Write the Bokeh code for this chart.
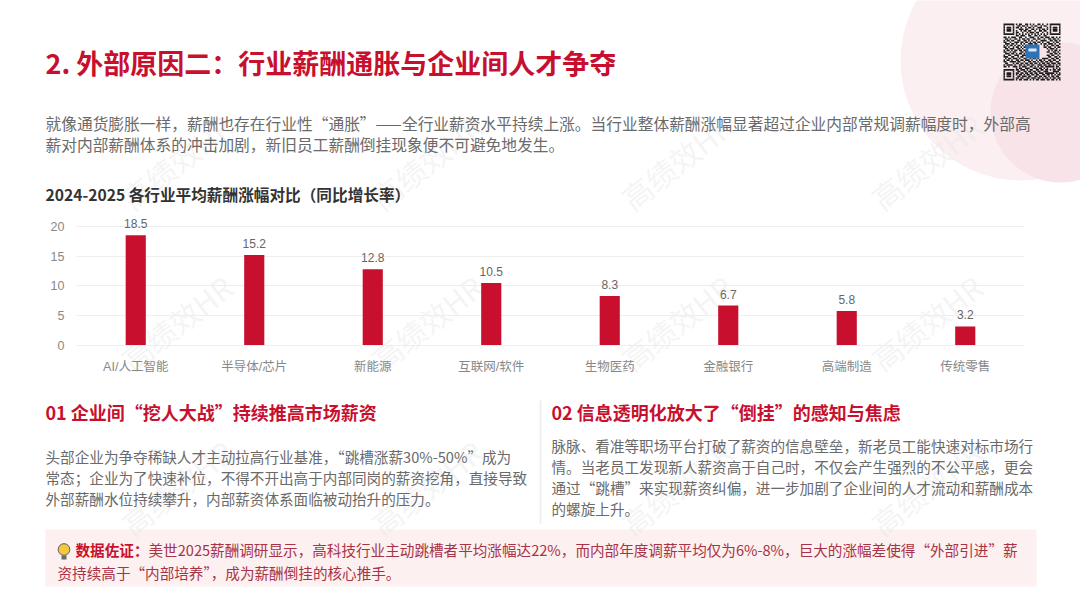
import math
from bokeh.core.properties import value
from bokeh.embed import file_html
from bokeh.layouts import column
from bokeh.resources import INLINE
from bokeh.plotting import figure
from bokeh.models import ColumnDataSource, Label, LabelSet, FixedTicker

categories = ["AI/人工智能", "半导体/芯片", "新能源", "互联网/软件", "生物医药", "金融银行", "高端制造", "传统零售"]
growth = [18.5, 15.2, 12.8, 10.5, 8.3, 6.7, 5.8, 3.2]
y_ticks = [0, 5, 10, 15, 20]

page_title = "2. 外部原因二：行业薪酬通胀与企业间人才争夺"
intro_lines = ["就像通货膨胀一样，薪酬也存在行业性“通胀”——全行业薪资水平持续上涨。当行业整体薪酬涨幅显著超过企业内部常规调薪幅度时，外部高",
               "薪对内部薪酬体系的冲击加剧，新旧员工薪酬倒挂现象便不可避免地发生。"]
chart_title = "2024-2025 各行业平均薪酬涨幅对比（同比增长率）"
left_head = "01 企业间“挖人大战”持续推高市场薪资"
left_body = ["头部企业为争夺稀缺人才主动拉高行业基准，“跳槽涨薪30%-50%”成为",
             "常态；企业为了快速补位，不得不开出高于内部同岗的薪资挖角，直接导致",
             "外部薪酬水位持续攀升，内部薪资体系面临被动抬升的压力。"]
right_head = "02 信息透明化放大了“倒挂”的感知与焦虑"
right_body = ["脉脉、看准等职场平台打破了薪资的信息壁垒，新老员工能快速对标市场行",
              "情。当老员工发现新人薪资高于自己时，不仅会产生强烈的不公平感，更会",
              "通过“跳槽”来实现薪资纠偏，进一步加剧了企业间的人才流动和薪酬成本",
              "的螺旋上升。"]
note_head = "数据佐证："
note_lines = ["美世2025薪酬调研显示，高科技行业主动跳槽者平均涨幅达22%，而内部年度调薪平均仅为6%-8%，巨大的涨幅差使得“外部引进”薪",
              "资持续高于“内部培养”，成为薪酬倒挂的核心推手。"]
watermark = "高绩效HR"

qr_rows = [
"1111111010110011010100110100101111111",
"1000001001101101001011001011001000001",
"1011101011010010110100111000101011101",
"1011101000111011001101010110101011101",
"1011101010010110110010011011001011101",
"1000001011001001011101100100101000001",
"1111111010101010101010101010101111111",
"0000000011011100110011010011000000000",
"1101011100110010011100101101110110101",
"0110100110101101100110110010011011010",
"1011011001100110101001001111001101101",
"1100100111011011010110110100110010110",
"0111011010010100111011001011011101001",
"1010110101101011001010000010100110110",
"1101001011010110100100000011011001011",
"0110111001101001000000000000101110100",
"1011010110110110100000000000010101101",
"1100101100011011000000000000110011010",
"0111011010110101100000000000001101101",
"1001100111001110000000000000110110010",
"1110011001011001100000000000011001101",
"0101101110100110010110100111100110110",
"1011010011011011101001011010011011001",
"1100111101100100110110101101101100110",
"0110001011011011011011010110110111011",
"1011110100110101101100111011011010101",
"1101001110101110011010101101111110110",
"0000000010110011100111011010100010101",
"1111111011011101011001101101101011011",
"1000001001100110110110110011100011110",
"1011101011011011011011011101111110101",
"1011101010110101101101100110110101011",
"1011101001101110110011011011010110110",
"1000001011011001101110110101101011011",
"1111111010110111010101101110110110101",
]

BAR = "#c8102e"
FONT = "Noto Sans CJK SC"
SANS = "Liberation Sans, Noto Sans CJK SC"
W, H = 1080, 608

# full-page background figure: its axes are simply page pixels
bg = figure(x_range=(0, W), y_range=(H, 0), width=W, height=H, output_backend="svg",
            toolbar_location=None, x_axis_location=None, y_axis_location=None,
            min_border=0, frame_align=False)
bg.grid.visible = False
bg.outline_line_color = None
bg.background_fill_color = "#ffffff"
bg.border_fill_color = "#ffffff"


def box(x0, x1, y0, y1, color):
    bg.quad(left=x0, right=x1, top=y0, bottom=y1, fill_color=color, line_color=None)


def text(t, x, y, size, color, bold=False, align="left", angle=0, alpha=1.0, level="annotation"):
    bg.add_layout(Label(x=x, y=y, text=t, text_font=FONT, text_font_size=f"{size}px", text_color=color,
                        text_font_style="bold" if bold else "normal", text_align=align,
                        text_baseline="middle", angle=angle, angle_units="deg",
                        text_alpha=alpha, level=level))


bg.circle(x=[1020], y=[60], radius=120, fill_color="#fbeff1", line_color=None)
bg.circle(x=[1060], y=[112], radius=70, fill_color="#f8e4e8", line_color=None)
box(45, 1036, 529, 586, "#fdf0f0")
box(539, 541, 400, 523, "#eeeeee")

for wy in (161, 322, 487):
    for wx in (176, 426, 676, 926):
        text(watermark, wx, wy, 30, "#e8e8e8", align="center", angle=38, alpha=0.45, level="glyph")

# QR code
QX, QY, QS = 1003, 23, 57 / 37
RS = 57 / len(qr_rows)
ql, qr, qt, qb = [], [], [], []
for r, row in enumerate(qr_rows):
    c = 0
    while c < len(row):
        if row[c] == "1":
            e = c
            while e < len(row) and row[e] == "1":
                e += 1
            ql.append(QX + c * QS); qr.append(QX + e * QS)
            qt.append(QY + r * RS); qb.append(QY + (r + 1) * RS)
            c = e
        else:
            c += 1
bg.quad(left=ql, right=qr, top=qt, bottom=qb, fill_color="#1c1c1c", line_color=None)
box(1025, 1039, 44, 58, "#2f72b8")
box(1028, 1036, 48, 51, "#dbe8f5")

# bulb
bg.circle(x=[63.5], y=[549], radius=5.8, fill_color="#f7c83c", line_color="#5a5a5a", line_width=1)
box(61, 66, 555, 559, "#6a6a6a")

# texts (y is the visual centre of the line; the CJK font sits 2px low on "middle")
D = 2
text(page_title, 45, 64 - D, 27, BAR, bold=True)
for i, t in enumerate(intro_lines):
    text(t, 45, 125 - D + 20.5 * i, 15.72, "#6a6a6a")
text(chart_title, 45, 196 - D, 15.65, "#333333", bold=True)
text(left_head, 45, 413 - D, 18, BAR, bold=True)
for i, t in enumerate(left_body):
    text(t, 45, 458 - D + 21 * i, 14.6, "#6a6a6a")
text(right_head, 551, 413 - D, 18, BAR, bold=True)
for i, t in enumerate(right_body):
    text(t, 551, 447 - D + 21 * i, 14.6, "#6a6a6a")
text(note_head, 75, 551 - D, 14.6, BAR, bold=True)
text(note_lines[0], 148, 551 - D, 14.6, "#a83246")
text(note_lines[1], 57, 574 - D, 14.6, "#a83246")

# chart, laid transparently over the background
CH_TOP = 205
p = figure(x_range=categories, y_range=(0, 22), width=W, height=180,
           output_backend="svg", toolbar_location=None, frame_align=False,
           min_border_left=76, min_border_right=56, min_border_top=9, min_border_bottom=40,
           margin=(CH_TOP - H, 0, 0, 0))
p.x_range.range_padding = 0
p.x_range.factor_padding = 0
p.outline_line_color = None
p.background_fill_color = None
p.border_fill_color = None
p.xgrid.grid_line_color = None
p.ygrid.grid_line_color = "#eeeeee"
p.ygrid.ticker = FixedTicker(ticks=y_ticks)
p.yaxis.ticker = FixedTicker(ticks=y_ticks)
for ax in (p.xaxis[0], p.yaxis[0]):
    ax.major_tick_line_color = None
    ax.minor_tick_line_color = None
    ax.major_label_text_color = "#888888"
    ax.major_label_text_font = SANS
    ax.major_label_text_font_size = "12.5px"
p.yaxis.axis_line_color = None
p.yaxis.major_label_standoff = 6
p.xaxis.axis_line_color = "#eeeeee"
p.xaxis.major_label_standoff = 8

src = ColumnDataSource(dict(cat=categories, val=growth, lab=[f"{v:.1f}" for v in growth]))
p.vbar(x="cat", top="val", bottom=0, width=0.17, source=src, fill_color=BAR, line_color=None)
p.add_layout(LabelSet(x="cat", y="val", text="lab", source=src, y_offset=7, text_align="center",
                      text_baseline="bottom", text_color="#666666", text_font_size="12px",
                      text_font=value(SANS)))

layout = column(bg, p, spacing=0, width=W, height=H)
open("out.html", "w").write(file_html(layout, INLINE))
